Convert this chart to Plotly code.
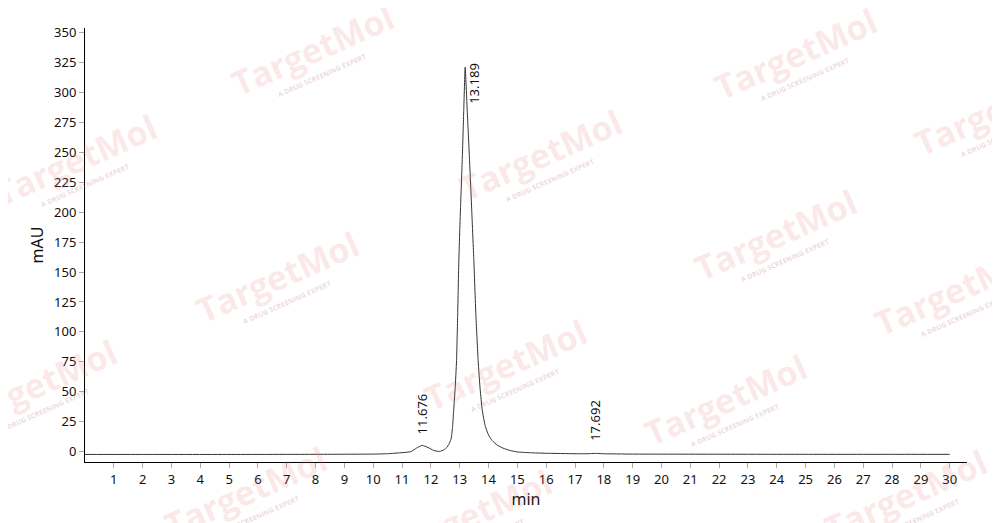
import plotly.graph_objects as go

# retention time (min) and detector signal (mAU)
time_min = [0, 2, 5, 8, 10, 10.5, 11.0, 11.3, 11.5, 11.7, 11.9, 12.1, 12.3,
            12.45, 12.55, 12.62, 12.70, 12.75, 12.79, 12.84, 12.89, 12.93, 12.97,
            13.03, 13.09, 13.14, 13.19, 13.26, 13.30, 13.34, 13.42, 13.49, 13.56,
            13.64, 13.71, 13.78, 13.89, 14.0, 14.12, 14.3, 14.5, 14.75, 15.0,
            15.45, 16, 17, 17.45, 17.7, 17.95, 19, 22, 25, 28, 30]
signal_mau = [-2.3, -2.3, -2.3, -2.2, -2.0, -1.7, -0.8, 0.0, 3.0, 5.3, 3.5, 1.0, 0.2,
              1.5, 3.5, 6.0, 10.5, 20, 34, 52, 76, 115, 160,
              205, 245, 285, 321, 285, 265, 244, 200, 160, 115,
              76, 52, 35, 21, 14, 9.5, 5.5, 3.0, 1.0, -0.2,
              -0.9, -1.3, -1.7, -1.7, -1.4, -1.7, -2.0, -2.1, -2.2, -2.2, -2.2]

# labelled peaks
peak_rt = [11.676, 13.189, 17.692]
peak_h = [5.3, 321, -1.4]
peak_labels = ["11.676", "13.189", "17.692"]

x_ticks = list(range(1, 31))
y_ticks = list(range(0, 351, 25))

# watermark centres in page pixels
wm_px = [(312, 50), (795, 54), (75, 160), (540, 155), (995, 110), (277, 277),
         (775, 235), (955, 290), (505, 365), (35, 385), (725, 400), (245, 492),
         (470, 515), (905, 495)]

# page body has an 8px margin, so the figure is shrunk and margins trimmed to match
L, R, T, B = 77, 33, 20, 61
W, H = 992, 515
pw, ph = W - L - R, H - T - B
x0, y1 = 85, 462  # plot area left / bottom in page pixels

fig = go.Figure()

fig.add_trace(go.Scatter(
    x=time_min, y=signal_mau,
    mode="lines",
    line=dict(color="#333333", width=1, shape="spline", smoothing=0.4),
    showlegend=False,
    hoverinfo="skip"
))

annotations = []
for (px, py) in wm_px:
    annotations.append(dict(
        text="<b>TargetMol</b>", xref="paper", yref="paper",
        x=(px - x0) / pw, y=(y1 - py) / ph,
        xanchor="center", yanchor="middle",
        showarrow=False, textangle=-24,
        font=dict(family="Open Sans", size=34, color="rgba(235,110,110,0.17)")
    ))
    annotations.append(dict(
        text="<b>A DRUG SCREENING EXPERT</b>", xref="paper", yref="paper",
        x=(px + 10 - x0) / pw, y=(y1 - py - 25) / ph,
        xanchor="center", yanchor="middle",
        showarrow=False, textangle=-24,
        font=dict(family="Open Sans", size=7, color="rgba(190,130,130,0.3)")
    ))

shifts = [(0, 9), (9, 6), (0, 11)]
anchors = ["bottom", "top", "bottom"]
for rt, h, lab, (dx, dy), ya in zip(peak_rt, peak_h, peak_labels, shifts, anchors):
    annotations.append(dict(
        text=lab, x=rt, y=h, xref="x", yref="y",
        showarrow=False, textangle=-90,
        xanchor="center", yanchor=ya, xshift=dx, yshift=dy,
        font=dict(family="Noto Sans", size=13, color="#111111")
    ))

fig.update_layout(
    width=W, height=H,
    margin=dict(l=L, r=R, t=T, b=B),
    paper_bgcolor="white",
    plot_bgcolor="white",
    font=dict(family="Noto Sans", size=13, color="#111111"),
    annotations=annotations,
    xaxis=dict(
        range=[0, 30.6], tickvals=x_ticks, ticks="outside", ticklen=5,
        tickcolor="#aaaaaa", showline=True, linecolor="black", linewidth=1,
        showgrid=False, zeroline=False, automargin=False,
        title=dict(text="min", standoff=0)
    ),
    yaxis=dict(
        range=[-8.6, 353.7], tickvals=y_ticks, ticks="outside", ticklen=5,
        tickcolor="#aaaaaa", showline=True, linecolor="black", linewidth=1,
        showgrid=False, zeroline=False, automargin=False,
        title=dict(text="mAU", standoff=6)
    )
)

fig.write_html("out.html")
